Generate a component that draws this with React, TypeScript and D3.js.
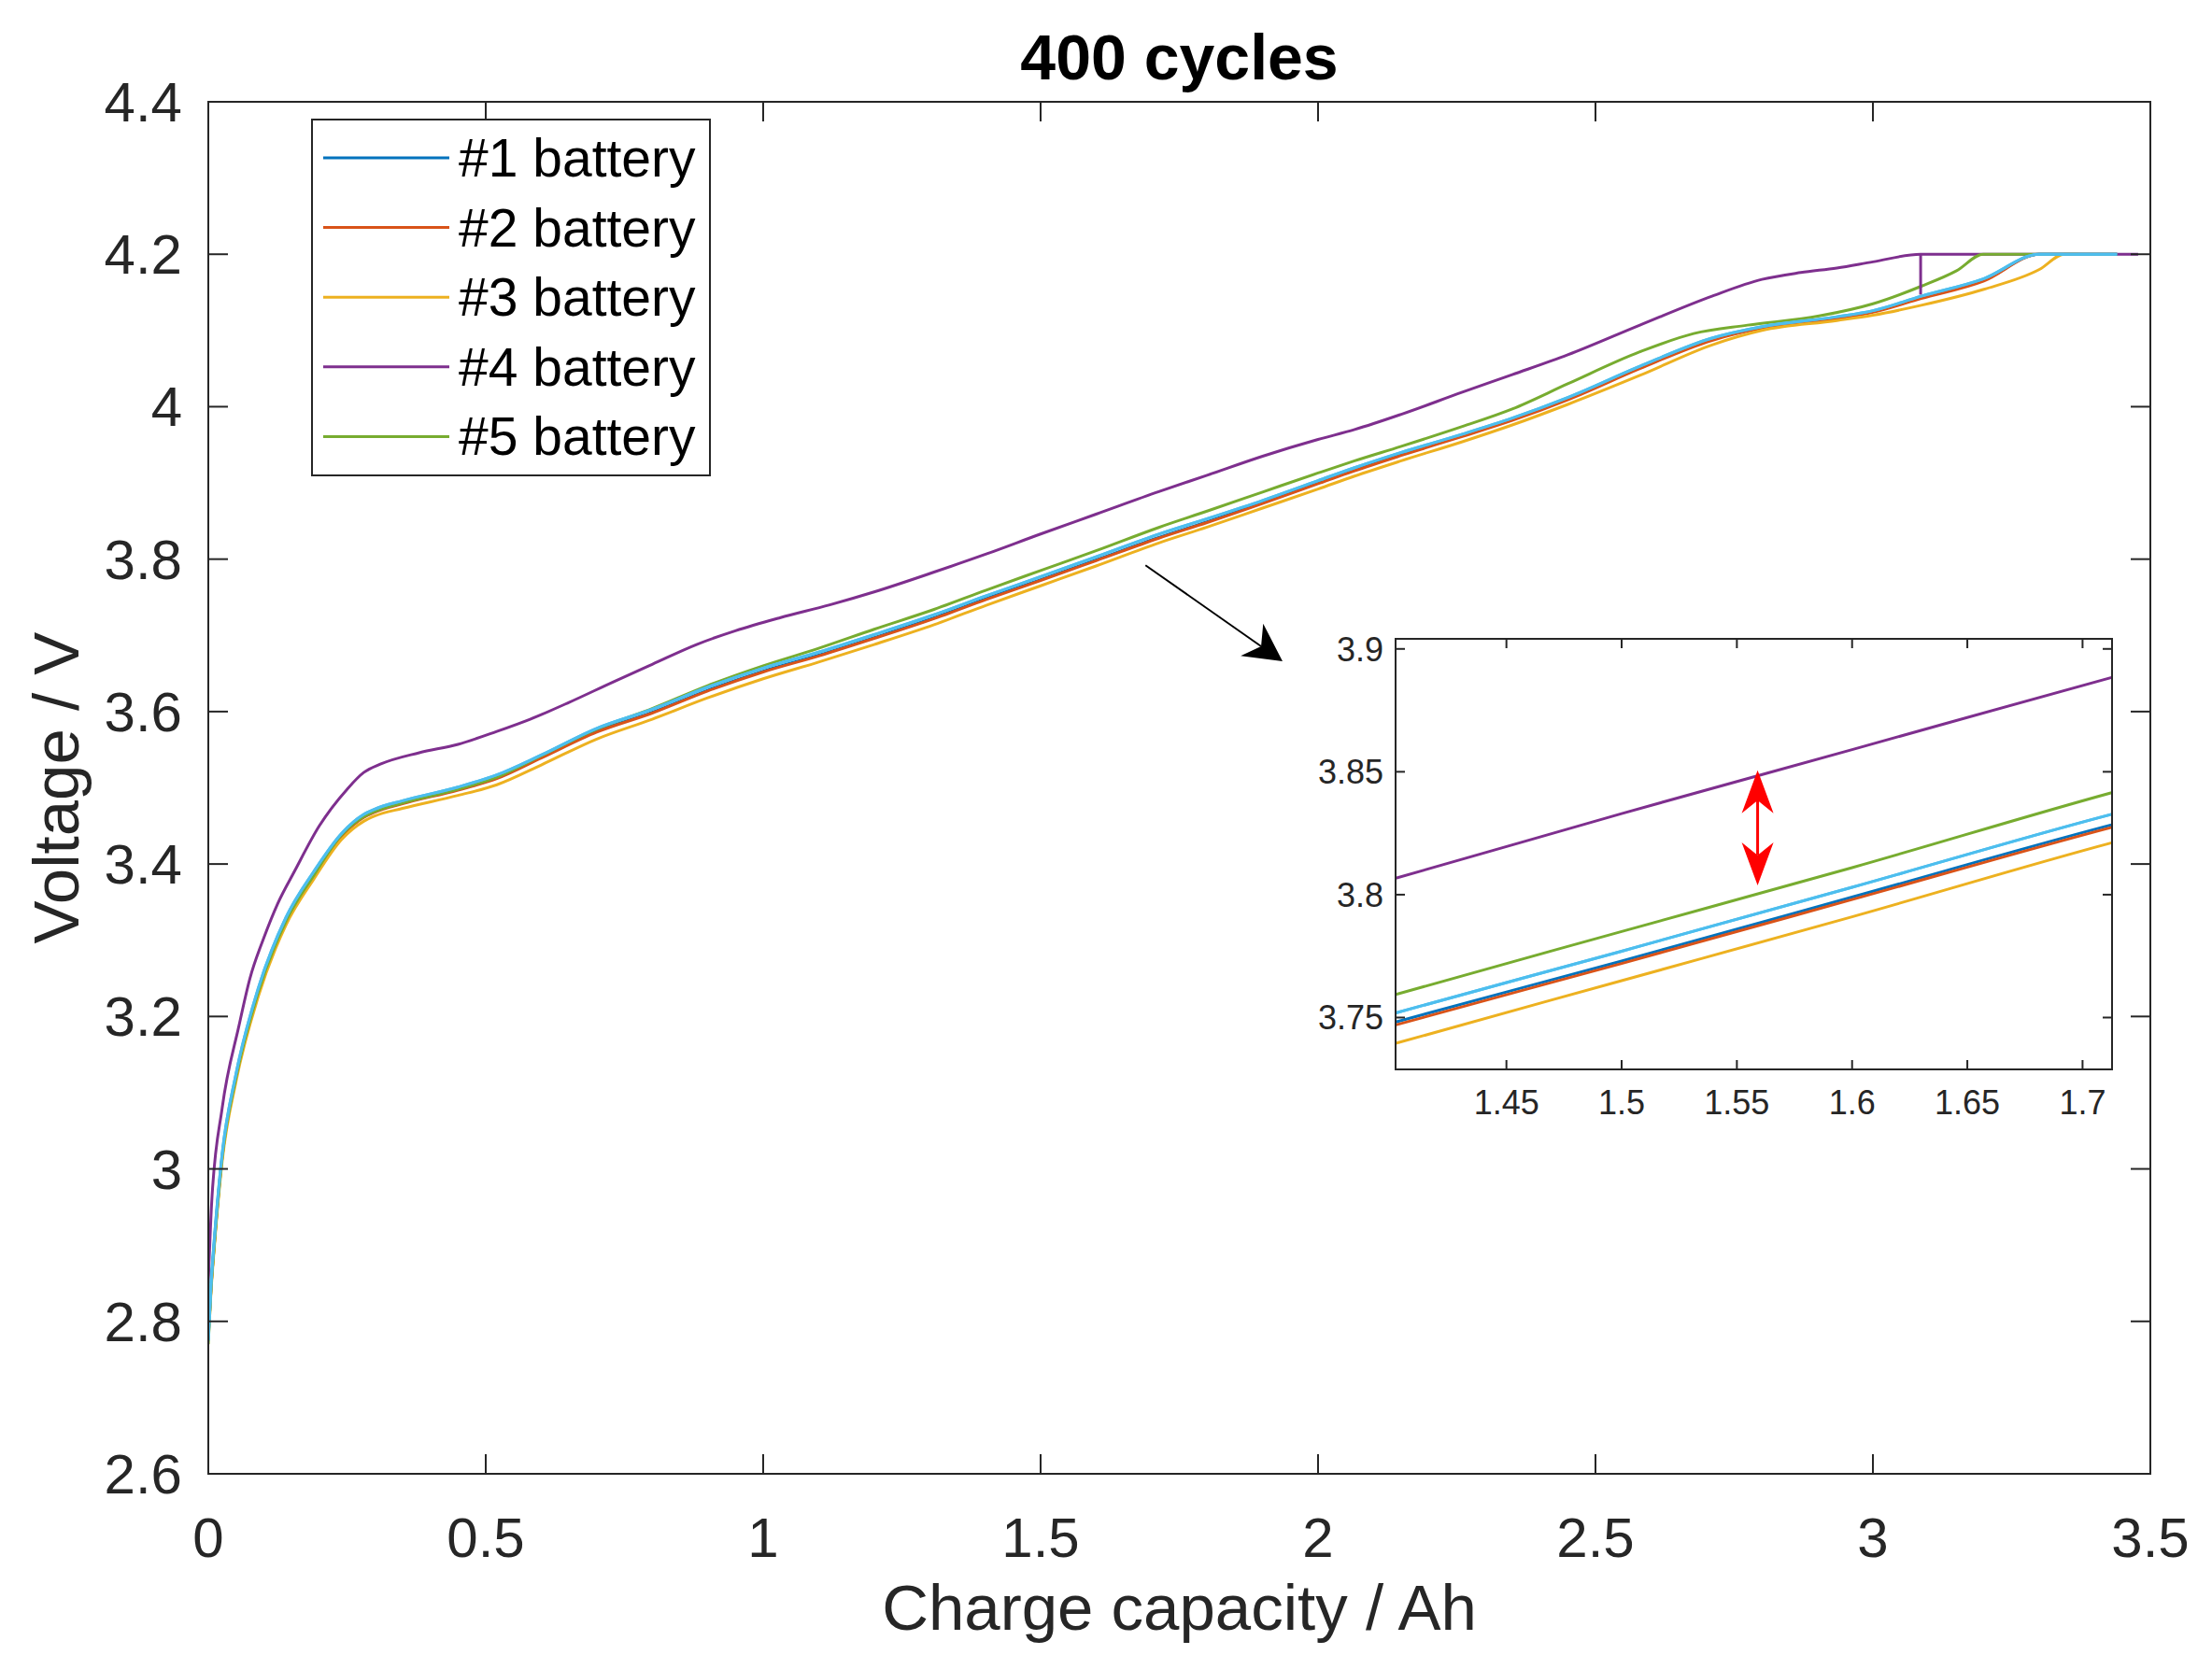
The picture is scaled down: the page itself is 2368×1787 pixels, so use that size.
import * as d3 from "d3";

type Pt = [number, number];

// charge capacity (Ah) vs voltage (V)
const battery1: Pt[] = [
  [0, 2.78], [0.005, 2.845], [0.01, 2.895], [0.025, 3.016], [0.05, 3.122], [0.09, 3.234],
  [0.14, 3.327], [0.19, 3.386], [0.24, 3.437], [0.28, 3.462], [0.3, 3.469], [0.35, 3.48],
  [0.45, 3.498], [0.52, 3.513], [0.6, 3.54], [0.7, 3.574], [0.8, 3.599], [0.9, 3.628],
  [1.0, 3.653], [1.1, 3.674], [1.2, 3.697], [1.308, 3.723], [1.402, 3.7482], [1.5, 3.773],
  [1.6, 3.799], [1.713, 3.8285], [1.8, 3.849], [1.9, 3.874], [2.0, 3.9], [2.066, 3.917],
  [2.15, 3.937], [2.26, 3.962], [2.35, 3.983], [2.45, 4.01], [2.58, 4.051], [2.71, 4.088],
  [2.8, 4.104], [2.935, 4.117], [3.0, 4.125], [3.087, 4.143], [3.2, 4.166], [3.3, 4.2], [3.44, 4.2],
];

const battery2: Pt[] = [
  [0, 2.78], [0.005, 2.844], [0.01, 2.894], [0.025, 3.015], [0.05, 3.121], [0.09, 3.233],
  [0.14, 3.326], [0.19, 3.385], [0.24, 3.436], [0.28, 3.461], [0.3, 3.468], [0.35, 3.479],
  [0.45, 3.497], [0.52, 3.512], [0.6, 3.539], [0.7, 3.573], [0.8, 3.598], [0.9, 3.627],
  [1.0, 3.652], [1.1, 3.673], [1.2, 3.696], [1.308, 3.722], [1.402, 3.747], [1.5, 3.772],
  [1.6, 3.798], [1.713, 3.8275], [1.8, 3.848], [1.9, 3.873], [2.0, 3.899], [2.066, 3.916],
  [2.15, 3.936], [2.26, 3.961], [2.35, 3.982], [2.45, 4.009], [2.58, 4.05], [2.71, 4.087],
  [2.8, 4.103], [2.935, 4.116], [3.0, 4.124], [3.087, 4.142], [3.2, 4.165], [3.3, 4.2], [3.44, 4.2],
];

const battery3: Pt[] = [
  [0, 2.775], [0.005, 2.84], [0.01, 2.89], [0.025, 3.01], [0.05, 3.115], [0.09, 3.226],
  [0.14, 3.32], [0.19, 3.38], [0.24, 3.432], [0.28, 3.456], [0.3, 3.463], [0.35, 3.473],
  [0.45, 3.49], [0.52, 3.504], [0.6, 3.53], [0.7, 3.564], [0.8, 3.59], [0.9, 3.618],
  [1.0, 3.643], [1.1, 3.665], [1.2, 3.688], [1.308, 3.714], [1.402, 3.7395], [1.5, 3.765],
  [1.6, 3.791], [1.713, 3.8212], [1.8, 3.842], [1.9, 3.867], [2.0, 3.892], [2.066, 3.909],
  [2.15, 3.929], [2.26, 3.954], [2.35, 3.976], [2.45, 4.003], [2.58, 4.041], [2.71, 4.081],
  [2.8, 4.1], [2.935, 4.113], [3.0, 4.12], [3.087, 4.133], [3.2, 4.154], [3.3, 4.18], [3.345, 4.2], [3.37, 4.2],
];

const battery4: Pt[] = [
  [0, 2.85], [0.006, 2.955], [0.025, 3.08], [0.055, 3.187], [0.075, 3.25], [0.1, 3.303],
  [0.125, 3.348], [0.155, 3.39], [0.2, 3.45], [0.25, 3.498], [0.28, 3.52], [0.31, 3.531],
  [0.38, 3.546], [0.45, 3.557], [0.52, 3.574], [0.58, 3.59], [0.65, 3.612], [0.73, 3.639],
  [0.8, 3.662], [0.88, 3.688], [0.95, 3.706], [1.03, 3.723], [1.12, 3.74], [1.2, 3.757],
  [1.308, 3.783], [1.402, 3.8067], [1.5, 3.833], [1.6, 3.859], [1.713, 3.8885], [1.8, 3.91],
  [1.9, 3.935], [2.0, 3.957], [2.066, 3.97], [2.15, 3.99], [2.26, 4.019], [2.35, 4.042],
  [2.45, 4.068], [2.58, 4.107], [2.71, 4.145], [2.8, 4.167], [2.87, 4.176], [2.935, 4.182],
  [3.0, 4.19], [3.086, 4.2], [3.478, 4.2],
];

// short vertical drop of #4 at the start of its constant-voltage step
const battery4Drop: Pt[] = [[3.086, 4.2], [3.086, 4.147]];

const battery5: Pt[] = [
  [0, 2.77], [0.005, 2.845], [0.01, 2.893], [0.025, 3.015], [0.05, 3.12], [0.09, 3.232],
  [0.14, 3.325], [0.19, 3.385], [0.24, 3.438], [0.28, 3.462], [0.3, 3.469], [0.35, 3.48],
  [0.45, 3.498], [0.52, 3.514], [0.6, 3.542], [0.7, 3.577], [0.8, 3.604], [0.9, 3.634],
  [1.0, 3.66], [1.1, 3.683], [1.2, 3.708], [1.308, 3.734], [1.402, 3.7594], [1.5, 3.785],
  [1.6, 3.811], [1.713, 3.8416], [1.8, 3.863], [1.9, 3.888], [2.0, 3.913], [2.066, 3.929],
  [2.15, 3.948], [2.26, 3.974], [2.35, 3.997], [2.45, 4.03], [2.58, 4.072], [2.677, 4.096],
  [2.774, 4.107], [2.903, 4.119], [3.0, 4.135], [3.087, 4.158], [3.15, 4.178], [3.199, 4.2], [3.44, 4.2],
];

// sixth trace (light blue) drawn without a legend entry
const battery6: Pt[] = [
  [0, 2.775], [0.005, 2.85], [0.01, 2.9], [0.025, 3.02], [0.05, 3.125], [0.09, 3.237],
  [0.14, 3.33], [0.19, 3.39], [0.24, 3.44], [0.28, 3.465], [0.3, 3.472], [0.35, 3.483],
  [0.45, 3.501], [0.52, 3.517], [0.6, 3.543], [0.7, 3.578], [0.8, 3.603], [0.9, 3.632],
  [1.0, 3.657], [1.1, 3.678], [1.2, 3.701], [1.308, 3.727], [1.402, 3.7519], [1.5, 3.777],
  [1.6, 3.803], [1.713, 3.8328], [1.8, 3.853], [1.9, 3.877], [2.0, 3.903], [2.066, 3.92],
  [2.15, 3.94], [2.26, 3.964], [2.35, 3.985], [2.45, 4.012], [2.58, 4.053], [2.71, 4.09],
  [2.8, 4.105], [2.935, 4.118], [3.0, 4.126], [3.087, 4.145], [3.2, 4.168], [3.3, 4.2], [3.44, 4.2],
];

const legendNames = ["#1 battery", "#2 battery", "#3 battery", "#4 battery", "#5 battery"];
const colors = ["#0072BD", "#D95319", "#EDB120", "#7E2F8E", "#77AC30", "#4DBEEE"];

const xTicks = [0, 0.5, 1, 1.5, 2, 2.5, 3, 3.5];
const xTickLabels = ["0", "0.5", "1", "1.5", "2", "2.5", "3", "3.5"];
const yTicks = [2.6, 2.8, 3, 3.2, 3.4, 3.6, 3.8, 4, 4.2, 4.4];
const yTickLabels = ["2.6", "2.8", "3", "3.2", "3.4", "3.6", "3.8", "4", "4.2", "4.4"];
const insetXTicks = [1.45, 1.5, 1.55, 1.6, 1.65, 1.7];
const insetXTickLabels = ["1.45", "1.5", "1.55", "1.6", "1.65", "1.7"];
const insetYTicks = [3.75, 3.8, 3.85, 3.9];
const insetYTickLabels = ["3.75", "3.8", "3.85", "3.9"];

// annotations (data coordinates)
const zoomArrow: Pt[] = [[1.689, 3.792], [1.936, 3.666]]; // main axes
const gapArrow: Pt[] = [[1.559, 3.8038], [1.559, 3.8506]]; // inset axes

const W = 2368;
const H = 1787;
const FONT = "'Liberation Sans', Arial, Helvetica, sans-serif";
const AXIS = "#262626";

function arrowHead(tip: Pt, from: Pt, len: number, hw: number, notch: number) {
  const dx = tip[0] - from[0];
  const dy = tip[1] - from[1];
  const d = Math.hypot(dx, dy);
  const ux = dx / d;
  const uy = dy / d;
  const nx = -uy;
  const ny = ux;
  const bx = tip[0] - ux * len;
  const by = tip[1] - uy * len;
  const back: Pt = [tip[0] - ux * len * notch, tip[1] - uy * len * notch];
  const pts = [
    tip,
    [bx + nx * hw, by + ny * hw],
    back,
    [bx - nx * hw, by - ny * hw],
  ];
  return { path: "M" + pts.map((p) => p.join(",")).join("L") + "Z", back };
}

export default function App() {
  const m = { left: 223, right: 2302, top: 109, bottom: 1578 };
  const x = d3.scaleLinear().domain([0, 3.5]).range([m.left, m.right]);
  const y = d3.scaleLinear().domain([2.6, 4.4]).range([m.bottom, m.top]);

  const ins = { left: 1494, right: 2261, top: 684, bottom: 1145 };
  const ix = d3.scaleLinear().domain([1.4019, 1.7128]).range([ins.left, ins.right]);
  const iy = d3.scaleLinear().domain([3.7289, 3.9041]).range([ins.bottom, ins.top]);

  const series = [battery1, battery2, battery3, battery4, battery5, battery6];

  const mainLine = d3
    .line<Pt>()
    .x((d) => x(d[0]))
    .y((d) => y(d[1]))
    .curve(d3.curveMonotoneX);
  const insetLine = d3
    .line<Pt>()
    .x((d) => ix(d[0]))
    .y((d) => iy(d[1]))
    .curve(d3.curveMonotoneX);
  const straight = d3
    .line<Pt>()
    .x((d) => x(d[0]))
    .y((d) => y(d[1]));

  const tick = 21;
  const itick = 10;

  // black zoom arrow
  const za0: Pt = [x(zoomArrow[0][0]), y(zoomArrow[0][1])];
  const za1: Pt = [x(zoomArrow[1][0]), y(zoomArrow[1][1])];
  const zHead = arrowHead(za1, za0, 40, 21, 0.7);

  // red double arrow
  const ga0: Pt = [ix(gapArrow[0][0]), iy(gapArrow[0][1])];
  const ga1: Pt = [ix(gapArrow[1][0]), iy(gapArrow[1][1])];
  const gHeadTop = arrowHead(ga1, ga0, 46, 17, 0.7);
  const gHeadBot = arrowHead(ga0, ga1, 46, 17, 0.7);

  const legend = { left: 334, top: 128, width: 426, height: 381, row0: 169, rowGap: 74.6 };

  return (
    <svg
      width={W}
      height={H}
      viewBox={`0 0 ${W} ${H}`}
      style={{ position: "absolute", left: 0, top: 0, background: "#fff" }}
      fontFamily={FONT}
    >
      <rect x={0} y={0} width={W} height={H} fill="#fff" />
      <defs>
        <clipPath id="mainClip">
          <rect x={m.left} y={m.top - 3} width={m.right - m.left} height={m.bottom - m.top + 3} />
        </clipPath>
        <clipPath id="insetClip">
          <rect x={ins.left} y={ins.top} width={ins.right - ins.left} height={ins.bottom - ins.top} />
        </clipPath>
      </defs>

      {/* main curves */}
      <g clipPath="url(#mainClip)" fill="none" strokeWidth={3} strokeLinejoin="round">
        {series.map((s, i) => (
          <path key={i} d={mainLine(s) || ""} stroke={colors[i]} />
        ))}
        <path d={straight(battery4Drop) || ""} stroke={colors[3]} />
        <path d={mainLine(battery6) || ""} stroke={colors[5]} />
      </g>

      {/* main axes box and ticks */}
      <g stroke={AXIS} strokeWidth={2} fill="none">
        <rect x={m.left} y={m.top} width={m.right - m.left} height={m.bottom - m.top} />
        {xTicks.map((t) => (
          <g key={"xt" + t}>
            <line x1={x(t)} x2={x(t)} y1={m.bottom} y2={m.bottom - tick} />
            <line x1={x(t)} x2={x(t)} y1={m.top} y2={m.top + tick} />
          </g>
        ))}
        {yTicks.map((t) => (
          <g key={"yt" + t}>
            <line x1={m.left} x2={m.left + tick} y1={y(t)} y2={y(t)} />
            <line x1={m.right} x2={m.right - tick} y1={y(t)} y2={y(t)} />
          </g>
        ))}
      </g>
      <g fill={AXIS} fontSize={60}>
        {xTicks.map((t, i) => (
          <text key={"xl" + t} x={x(t)} y={1667} textAnchor="middle">
            {xTickLabels[i]}
          </text>
        ))}
        {yTicks.map((t, i) => (
          <text key={"yl" + t} x={m.left - 28} y={y(t) + 21} textAnchor="end">
            {yTickLabels[i]}
          </text>
        ))}
      </g>

      {/* axis titles */}
      <text x={(m.left + m.right) / 2} y={85} textAnchor="middle" fontSize={68} fontWeight="bold" fill="#000">
        400 cycles
      </text>
      <text x={(m.left + m.right) / 2} y={1745} textAnchor="middle" fontSize={69} fill={AXIS}>
        Charge capacity / Ah
      </text>
      <text
        transform={`translate(84, ${(m.top + m.bottom) / 2}) rotate(-90)`}
        textAnchor="middle"
        fontSize={69}
        fill={AXIS}
      >
        Voltage / V
      </text>

      {/* legend */}
      <g>
        <rect
          x={legend.left}
          y={legend.top}
          width={legend.width}
          height={legend.height}
          fill="#fff"
          stroke={AXIS}
          strokeWidth={2}
        />
        {legendNames.map((name, i) => {
          const cy = legend.row0 + i * legend.rowGap;
          return (
            <g key={name}>
              <line x1={346} x2={481} y1={cy} y2={cy} stroke={colors[i]} strokeWidth={3} />
              <text x={491} y={cy + 20} fontSize={57} fill="#000">
                {name}
              </text>
            </g>
          );
        })}
      </g>

      {/* inset */}
      <rect x={ins.left} y={ins.top} width={ins.right - ins.left} height={ins.bottom - ins.top} fill="#fff" />
      <g clipPath="url(#insetClip)" fill="none" strokeWidth={3}>
        {series.map((s, i) => (
          <path key={i} d={insetLine(s) || ""} stroke={colors[i]} />
        ))}
        <path d={insetLine(battery6) || ""} stroke={colors[5]} />
      </g>
      <g stroke={AXIS} strokeWidth={2} fill="none">
        <rect x={ins.left} y={ins.top} width={ins.right - ins.left} height={ins.bottom - ins.top} />
        {insetXTicks.map((t) => (
          <g key={"ixt" + t}>
            <line x1={ix(t)} x2={ix(t)} y1={ins.bottom} y2={ins.bottom - itick} />
            <line x1={ix(t)} x2={ix(t)} y1={ins.top} y2={ins.top + itick} />
          </g>
        ))}
        {insetYTicks.map((t) => (
          <g key={"iyt" + t}>
            <line x1={ins.left} x2={ins.left + itick} y1={iy(t)} y2={iy(t)} />
            <line x1={ins.right} x2={ins.right - itick} y1={iy(t)} y2={iy(t)} />
          </g>
        ))}
      </g>
      <g fill={AXIS} fontSize={36}>
        {insetXTicks.map((t, i) => (
          <text key={"ixl" + t} x={ix(t)} y={1193} textAnchor="middle">
            {insetXTickLabels[i]}
          </text>
        ))}
        {insetYTicks.map((t, i) => (
          <text key={"iyl" + t} x={ins.left - 13} y={iy(t) + 13} textAnchor="end">
            {insetYTickLabels[i]}
          </text>
        ))}
      </g>

      {/* annotations */}
      <line x1={za0[0]} y1={za0[1]} x2={zHead.back[0]} y2={zHead.back[1]} stroke="#000" strokeWidth={2} />
      <path d={zHead.path} fill="#000" />

      <line
        x1={gHeadBot.back[0]}
        y1={gHeadBot.back[1]}
        x2={gHeadTop.back[0]}
        y2={gHeadTop.back[1]}
        stroke="#ff0000"
        strokeWidth={3}
      />
      <path d={gHeadTop.path} fill="#ff0000" />
      <path d={gHeadBot.path} fill="#ff0000" />
    </svg>
  );
}
